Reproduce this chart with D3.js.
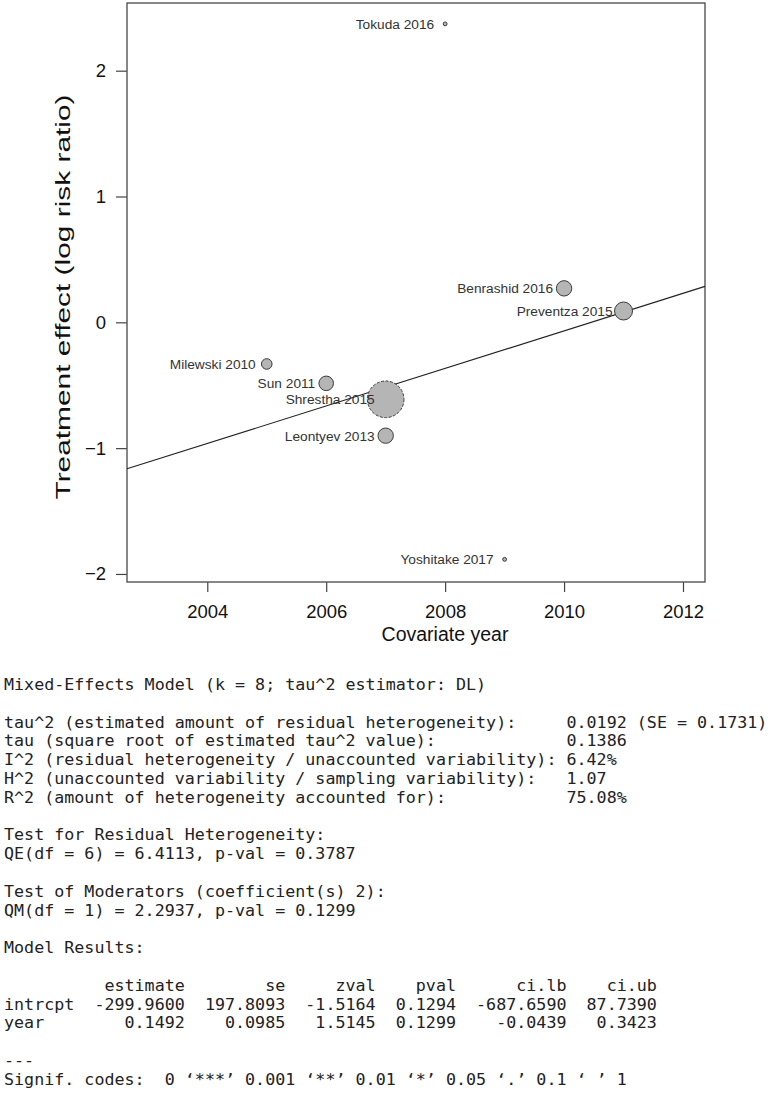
<!DOCTYPE html>
<html>
<head>
<meta charset="utf-8">
<script src="https://cdn.jsdelivr.net/npm/d3@7"></script>
<style>
body {margin:0; background:#fff;}
</style>
</head>
<body>
<script>
// studies in the meta-regression
var studies = ["Tokuda 2016","Benrashid 2016","Preventza 2015","Milewski 2010","Sun 2011","Shrestha 2015","Leontyev 2013","Yoshitake 2017"]
var years = [2008, 2010, 2011, 2005, 2006, 2007, 2007, 2009]
var effects = [2.372, 0.270, 0.090, -0.331, -0.485, -0.612, -0.901, -1.884]
var weights = [0.6, 9.5, 13.0, 4.5, 8.5, 53.8, 9.5, 0.6]

var coefIntercept = -299.9600
var coefYear = 0.1492

var xTicks = [2004, 2006, 2008, 2010, 2012]
var yTicks = [-2, -1, 0, 1, 2]

// console output below the plot
var hetLabels = ["tau^2 (estimated amount of residual heterogeneity):",
                 "tau (square root of estimated tau^2 value):",
                 "I^2 (residual heterogeneity / unaccounted variability):",
                 "H^2 (unaccounted variability / sampling variability):",
                 "R^2 (amount of heterogeneity accounted for):"]
var hetValues = ["0.0192 (SE = 0.1731)", "0.1386", "6.42%", "1.07", "75.08%"]
var colNames = ["estimate","se","zval","pval","ci.lb","ci.ub"]
var rowNames = ["intrcpt","year"]
var tableRows = [["-299.9600","197.8093","-1.5164","0.1294","-687.6590","87.7390"],
                 ["0.1492","0.0985","1.5145","0.1299","-0.0439","0.3423"]]

var screen = {width:773, height:1093}

var svg = d3.select("body").append("svg")
    .attr("width",screen.width)
    .attr("height",screen.height)

var xscale = d3.scaleLinear().domain([2002.65, 2012.37]).range([127, 705])
var yscale = d3.scaleLinear().domain([-2.064, 2.538]).range([582, 3])
var rscale = d3.scaleSqrt().domain([0, 53.8]).range([0, 18.3])

var points = studies.map(function(s,i){
    return {name:s, x:years[i], y:effects[i], w:weights[i]}
})

// axes
var yAxis = svg.append("g")
    .attr("transform","translate(127,0)")
    .call(d3.axisLeft(yscale).tickValues(yTicks).tickSize(11).tickPadding(10).tickFormat(d3.format("d")))
var xAxis = svg.append("g")
    .attr("transform","translate(0,582)")
    .call(d3.axisBottom(xscale).tickValues(xTicks).tickSize(10).tickPadding(13).tickFormat(d3.format("d")))
svg.selectAll(".domain").remove()
svg.selectAll(".tick line").attr("stroke","#444").attr("stroke-width",1.2)
svg.selectAll(".tick text")
    .attr("font-family","'Liberation Sans', Arial, sans-serif")
    .attr("font-size",18.5)
    .attr("fill","#111")

// box
svg.append("rect")
    .attr("x",xscale.range()[0])
    .attr("y",yscale.range()[1])
    .attr("width",xscale.range()[1]-xscale.range()[0])
    .attr("height",yscale.range()[0]-yscale.range()[1])
    .attr("fill","none")
    .attr("stroke","#555")
    .attr("stroke-width",1.4)

// axis titles
svg.append("text")
    .attr("x",445).attr("y",641)
    .attr("text-anchor","middle")
    .attr("font-family","'Liberation Sans', Arial, sans-serif")
    .attr("font-size",19.5)
    .attr("fill","#111")
    .text("Covariate year")

svg.append("text")
    .attr("transform","translate(70,297) rotate(-90)")
    .attr("text-anchor","middle")
    .attr("font-family","'Liberation Sans', Arial, sans-serif")
    .attr("font-size",19.5)
    .attr("textLength",405)
    .attr("lengthAdjust","spacingAndGlyphs")
    .attr("fill","#111")
    .text("Treatment effect (log risk ratio)")

// regression line
var fit = function(x){ return coefIntercept + coefYear*x }
svg.append("path")
    .datum(xscale.domain())
    .attr("d", d3.line().x(function(d){return xscale(d)}).y(function(d){return yscale(fit(d))}))
    .attr("stroke","#222")
    .attr("stroke-width",1.1)
    .attr("fill","none")

// bubbles
svg.selectAll("circle.study")
    .data(points)
    .enter()
    .append("circle")
    .attr("class","study")
    .attr("cx",function(d){return xscale(d.x)})
    .attr("cy",function(d){return yscale(d.y)})
    .attr("r",function(d){return rscale(d.w)})
    .attr("fill","#b5b5b5")
    .attr("stroke","#3a3a3a")
    .attr("stroke-width",1)
    .attr("stroke-dasharray",function(d){return rscale(d.w) > 12 ? "3,1.5" : null})

svg.selectAll("text.lab")
    .data(points)
    .enter()
    .append("text")
    .attr("class","lab")
    .attr("x",function(d){return xscale(d.x)-11})
    .attr("y",function(d){return yscale(d.y)})
    .attr("dy","0.36em")
    .attr("text-anchor","end")
    .attr("font-family","'Liberation Sans', Arial, sans-serif")
    .attr("font-size",13.7)
    .attr("fill","#333")
    .text(function(d){return d.name})

// text output
var lines = []
lines.push("Mixed-Effects Model (k = 8; tau^2 estimator: DL)")
lines.push("")
hetLabels.forEach(function(l,i){ lines.push((l+" ").padEnd(56," ")+hetValues[i]) })
lines.push("")
lines.push("Test for Residual Heterogeneity:")
lines.push("QE(df = 6) = 6.4113, p-val = 0.3787")
lines.push("")
lines.push("Test of Moderators (coefficient(s) 2):")
lines.push("QM(df = 1) = 2.2937, p-val = 0.1299")
lines.push("")
lines.push("Model Results:")
lines.push("")
var widths = colNames.map(function(c,j){
    return d3.max([c.length].concat(tableRows.map(function(r){return r[j].length})))
})
var labW = d3.max(rowNames, function(r){return r.length})
lines.push("".padEnd(labW," ") + colNames.map(function(c,j){return "  "+c.padStart(widths[j]," ")}).join(""))
tableRows.forEach(function(r,i){
    lines.push(rowNames[i].padEnd(labW," ") + r.map(function(v,j){return "  "+v.padStart(widths[j]," ")}).join(""))
})
lines.push("")
lines.push("---")
lines.push("Signif. codes:  0 \u2018***\u2019 0.001 \u2018**\u2019 0.01 \u2018*\u2019 0.05 \u2018.\u2019 0.1 \u2018 \u2019 1")

var charW = 10.05
var monoSize = 15
var out = svg.append("g")
    .attr("transform","translate(4,0) scale(" + (charW/(0.602*monoSize)) + ",1)")
out.selectAll("text")
    .data(lines)
    .enter()
    .append("text")
    .attr("x",0)
    .attr("y",function(d,i){return 690 + i*18.8})
    .attr("font-family","'DejaVu Sans Mono', monospace")
    .attr("font-size",monoSize)
    .attr("fill","#222")
    .attr("xml:space","preserve")
    .style("white-space","pre")
    .text(function(d){return d})
</script>
</body>
</html>
